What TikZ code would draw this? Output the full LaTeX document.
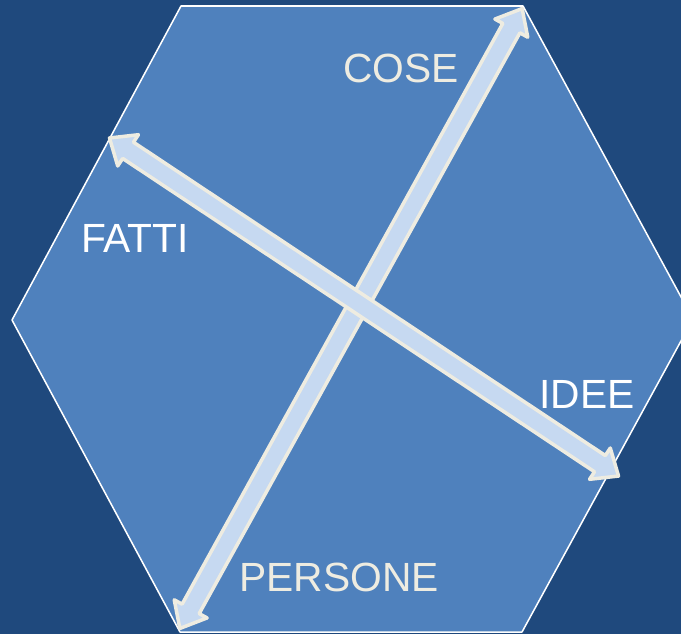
\documentclass[tikz,border=0pt]{standalone}
\usepackage{fontspec}
\setmainfont{Liberation Sans}
\usetikzlibrary{calc,shapes.arrows}

\definecolor{deepblue}{HTML}{1F497D}
\definecolor{hexblue}{HTML}{4F81BD}
\definecolor{shaftblue}{HTML}{C6D9F1}
\definecolor{cream}{HTML}{EEECE1}

\tikzset{
  pole label/.style={text=white, font=\fontsize{34.8}{42}\selectfont, inner sep=0pt},
  pole arrow/.style={double arrow, draw=cream, fill=shaftblue, line width=3pt,
    inner sep=0.24cm, double arrow head extend=0.27cm, double arrow tip angle=80}
}

\begin{document}
\begin{tikzpicture}[x=0.03cm, y=-0.03cm, line join=round]

% background
\fill[deepblue] (0,0) rectangle (681,634);
\useasboundingbox (0,0) rectangle (681,634);

% hexagon
\coordinate (h1) at (181,6);
\coordinate (h2) at (523,6);
\coordinate (h3) at (693,319);
\coordinate (h4) at (522,632);
\coordinate (h5) at (180,632);
\coordinate (h6) at (12,320);
\filldraw[fill=hexblue, draw=white, line width=1.3pt]
    (h1) -- (h2) -- (h3) -- (h4) -- (h5) -- (h6) -- cycle;

% arrow tips
\coordinate (cose tip)    at (523,7);
\coordinate (persone tip) at (179,630);
\coordinate (fatti tip)   at (108,137);
\coordinate (idee tip)    at (620,477);

% COSE -- PERSONE
\path let \p1 = ($(cose tip)-(persone tip)$),
          \n1 = {atan2(\y1,\x1)}, \n2 = {veclen(\x1,\y1)-3pt} in
    ($(persone tip)!0.5!(cose tip)$) node[pole arrow, rotate=\n1, minimum height=\n2] (cp arrow) {};

% FATTI -- IDEE (on top)
\path let \p1 = ($(idee tip)-(fatti tip)$),
          \n1 = {atan2(\y1,\x1)}, \n2 = {veclen(\x1,\y1)-3pt} in
    ($(fatti tip)!0.5!(idee tip)$) node[pole arrow, rotate=\n1, minimum height=\n2] (fi arrow) {};

% labels
\node[pole label, text=cream] (cose)    at (401,68)  {COSE};
\node[pole label]             (fatti)   at (135,238) {FATTI};
\node[pole label]             (idee)    at (587,394) {IDEE};
\node[pole label, text=cream] (persone) at (339,577) {PERSONE};

\end{tikzpicture}
\end{document}
